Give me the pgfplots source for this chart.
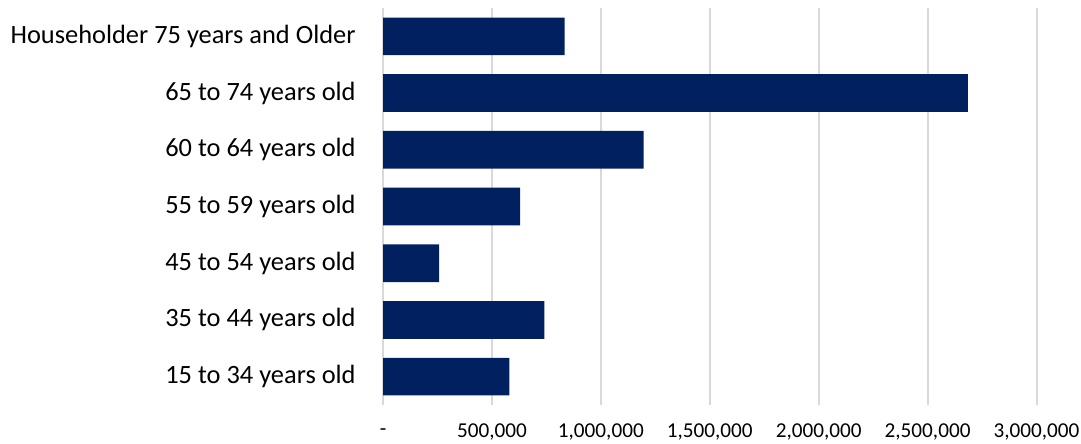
\documentclass[border=0pt]{standalone}
\usepackage{pgfplots}
\pgfplotsset{compat=1.18}
\usepackage{fontspec}
\setmainfont{Carlito}
\definecolor{navy}{HTML}{002060}
\definecolor{gridc}{HTML}{D9D9D9}
\begin{document}
\begin{tikzpicture}
\path[use as bounding box] (0,0) rectangle (540.5pt,222pt);
\begin{axis}[
  at={(191.5pt,19.5pt)}, anchor=south west,
  scale only axis, width=326.75pt, height=198.5pt,
  xbar, bar width=18.85pt,
  xmin=0, xmax=3000000, ymin=-0.5, ymax=6.5,
  axis line style={draw=none},
  major tick length=0pt,
  xmajorgrids, grid style={gridc, line width=1pt},
  xtick={0,500000,1000000,1500000,2000000,2500000,3000000},
  xticklabels={{-},{500,000},{1,000,000},{1,500,000},{2,000,000},{2,500,000},{3,000,000}},
  scaled x ticks=false,
  xticklabel style={font=\fontsize{10.6}{12}\selectfont, anchor=center, yshift=-13.5pt, text=black},
  ytick={0,1,2,3,4,5,6},
  yticklabels={{15 to 34 years old},{35 to 44 years old},{45 to 54 years old},{55 to 59 years old},{60 to 64 years old},{65 to 74 years old},{Householder 75 years and Older}},
  yticklabel style={font=\fontsize{13.2}{15}\selectfont, anchor=east, inner sep=0pt, xshift=-13.5pt, text=black},
  clip=false,
]
\addplot[fill=navy, draw=none] coordinates {
  (580000,0) (741000,1) (258000,2) (630000,3) (1196000,4) (2685000,5) (834000,6)
};
\end{axis}
\end{tikzpicture}
\end{document}
